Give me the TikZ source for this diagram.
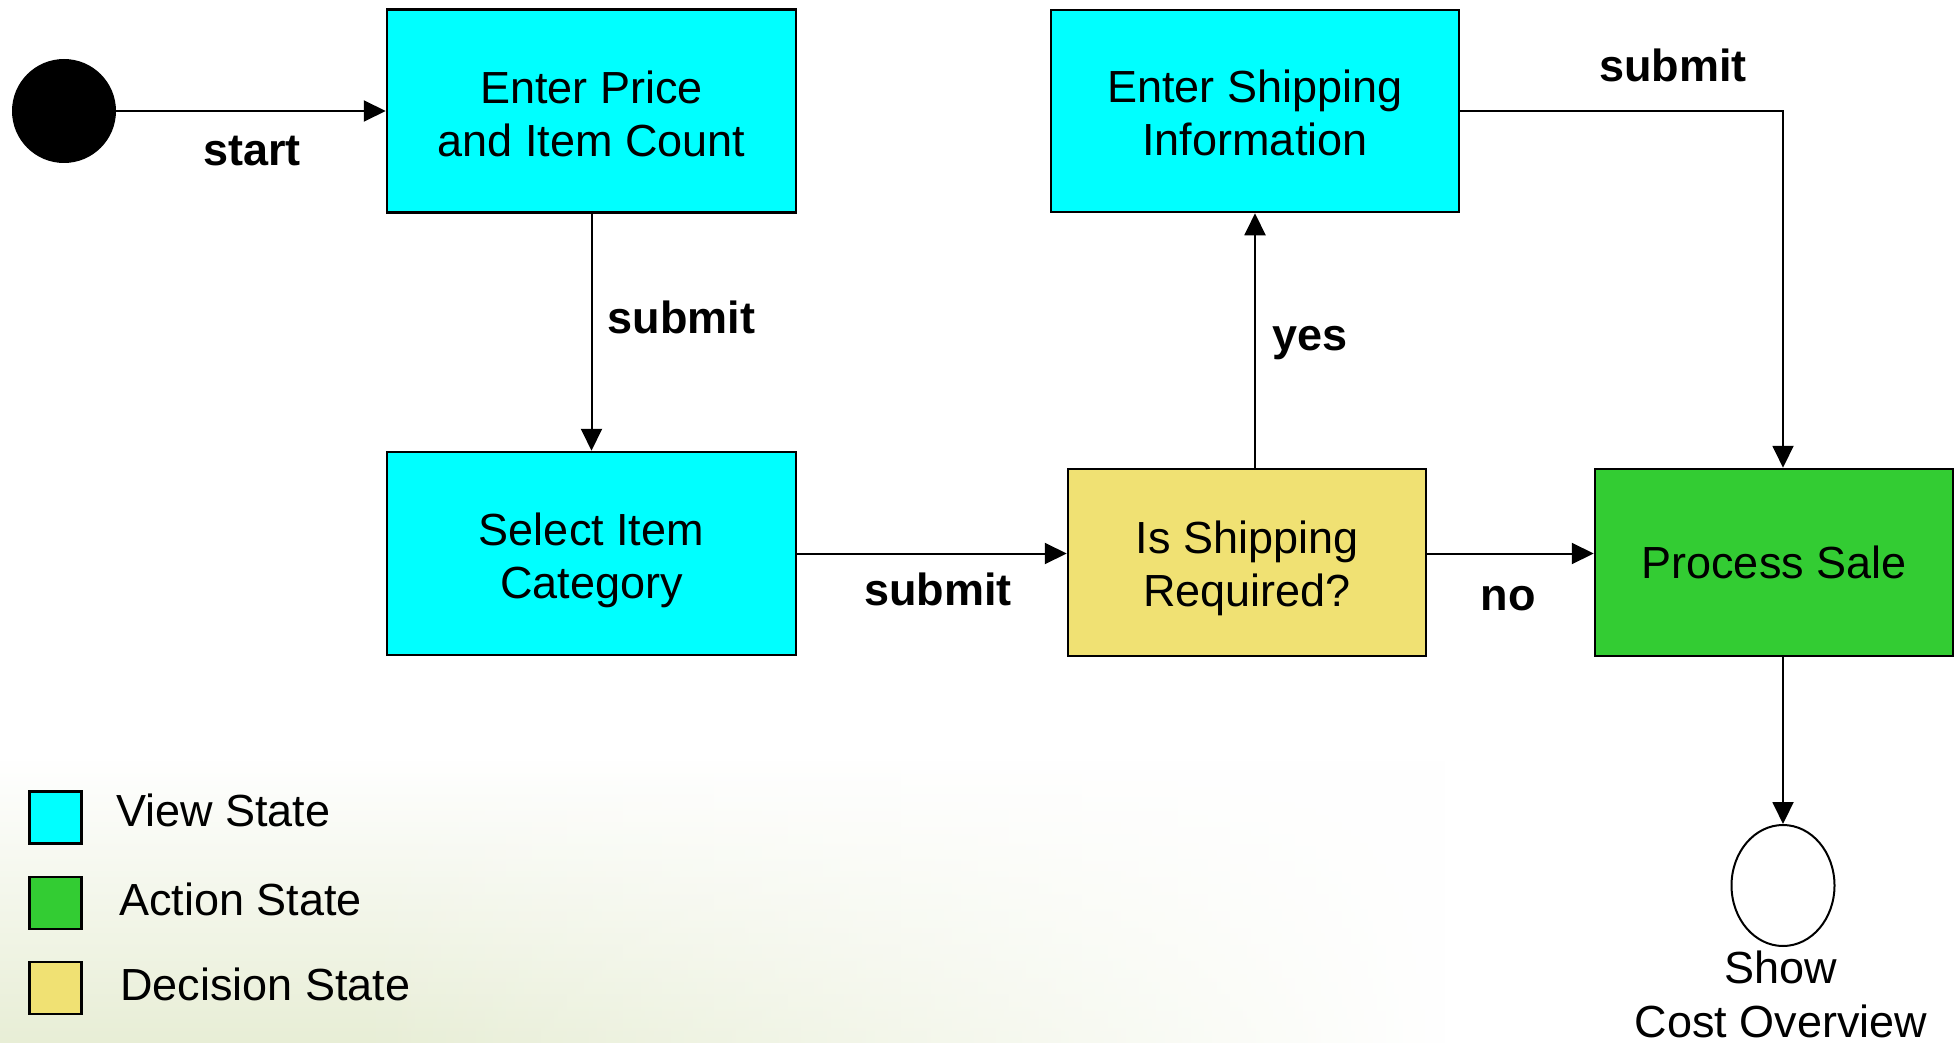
\documentclass[tikz,border=0pt]{standalone}
\usepackage{fontspec}
\setmainfont{Liberation Sans}
\usetikzlibrary{arrows.meta,shapes.geometric,fadings}

\definecolor{viewcol}{RGB}{0,255,255}
\definecolor{actioncol}{RGB}{51,204,51}
\definecolor{decisioncol}{RGB}{240,225,115}
\definecolor{hazecol}{RGB}{232,238,214}

% soft background wash in the lower left
\tikzfading[name=hazeup, top color=transparent!100, bottom color=transparent!0]
\tikzfading[name=hazeright, left color=transparent!100, right color=transparent!0]

\begin{document}
\begin{tikzpicture}[x=1pt,y=-1pt,
  statebox/.style={draw=black, line width=2.5pt, inner sep=0pt},
  statetext/.style={align=center, inner sep=0pt, font=\fontsize{45}{53}\selectfont},
  flow/.style={line width=2pt, -{Triangle[length=22pt,width=21pt]}},
  flowlabel/.style={font=\fontsize{45}{54}\selectfont\bfseries, anchor=base, inner sep=0pt},
  legendbox/.style={draw=black, line width=2.5pt, minimum width=52pt,
    minimum height=52pt, inner sep=0pt},
  legendtext/.style={font=\fontsize{45}{54}\selectfont, anchor=base west, inner sep=0pt}]

\useasboundingbox (0,0) rectangle (1959,1043);
\fill[white] (0,0) rectangle (1959,1043);

% background wash
\fill[hazecol, path fading=hazeup] (0,760) rectangle (1450,1043);
\fill[white, path fading=hazeright] (350,760) rectangle (1450,1043);

% states
\node[circle, fill=black, minimum size=104pt, inner sep=0pt] (start) at (64,111) {};
\node[statebox, fill=viewcol, minimum width=409pt, minimum height=203pt] (price)
  at (591.5,111) {};
\node[statebox, fill=viewcol, minimum width=409pt, minimum height=203pt] (category)
  at (591.5,553.5) {};
\node[statebox, fill=viewcol, minimum width=408pt, minimum height=202pt] (shipping)
  at (1255,111) {};
\node[statebox, fill=decisioncol, minimum width=358pt, minimum height=187pt] (decide)
  at (1247,562.5) {};
\node[statebox, fill=actioncol, minimum width=358pt, minimum height=187pt] (process)
  at (1774,562.5) {};

\node[statetext] (pricetxt) at (591.5,114) {Enter Price\\and Item Count};
\node[statetext] (categorytxt) at (591.5,560) {Select Item\\Category};
\node[statetext] (shippingtxt) at (1255,113) {Enter Shipping\\Information};
\node[statetext] (decidetxt) at (1247,568) {Is Shipping\\Required?};
\node[statetext] (processtxt) at (1774,562.5) {Process Sale};

\node[ellipse, draw=black, line width=2pt, fill=white, minimum width=103pt,
  minimum height=121pt, inner sep=0pt] (finish) at (1783,885.5) {};
\node[font=\fontsize{45}{54}\selectfont, align=center, anchor=north, inner sep=0pt]
  (finishlbl) at (1781,951) {Show\\Cost Overview};

% transitions
\coordinate (corner) at (1783,111);
\draw[flow] (start) -- (price);
\draw[flow] (price) -- (category);
\draw[flow] (category.east) -- (category.east -| decide.west);
\draw[flow] (decide.east |- category.east) -- (process.west |- category.east);
\draw[flow] (decide.north -| shipping.south) -- (shipping.south);
\draw[flow] (shipping.east) -- (corner) -- (corner |- process.north);
\draw[flow] (corner |- process.south) -- (finish.north);

% transition labels
\node[flowlabel] (lstart) at (252,166) {start};
\node[flowlabel] (lsubmitA) at (681.5,333) {submit};
\node[flowlabel] (lsubmitB) at (938,605) {submit};
\node[flowlabel] (lyes) at (1310,350) {yes};
\node[flowlabel] (lno) at (1508,610) {no};
\node[flowlabel] (lsubmitC) at (1673,82) {submit};

% legend
\node[legendbox, fill=viewcol] (keyview) at (55.5,817.5) {};
\node[legendbox, fill=actioncol] (keyaction) at (55.5,903) {};
\node[legendbox, fill=decisioncol] (keydecision) at (55.5,988) {};
\node[legendtext] (keyviewtxt) at (116,826) {View State};
\node[legendtext] (keyactiontxt) at (119,915) {Action State};
\node[legendtext] (keydecisiontxt) at (120,1000) {Decision State};
\end{tikzpicture}
\end{document}
